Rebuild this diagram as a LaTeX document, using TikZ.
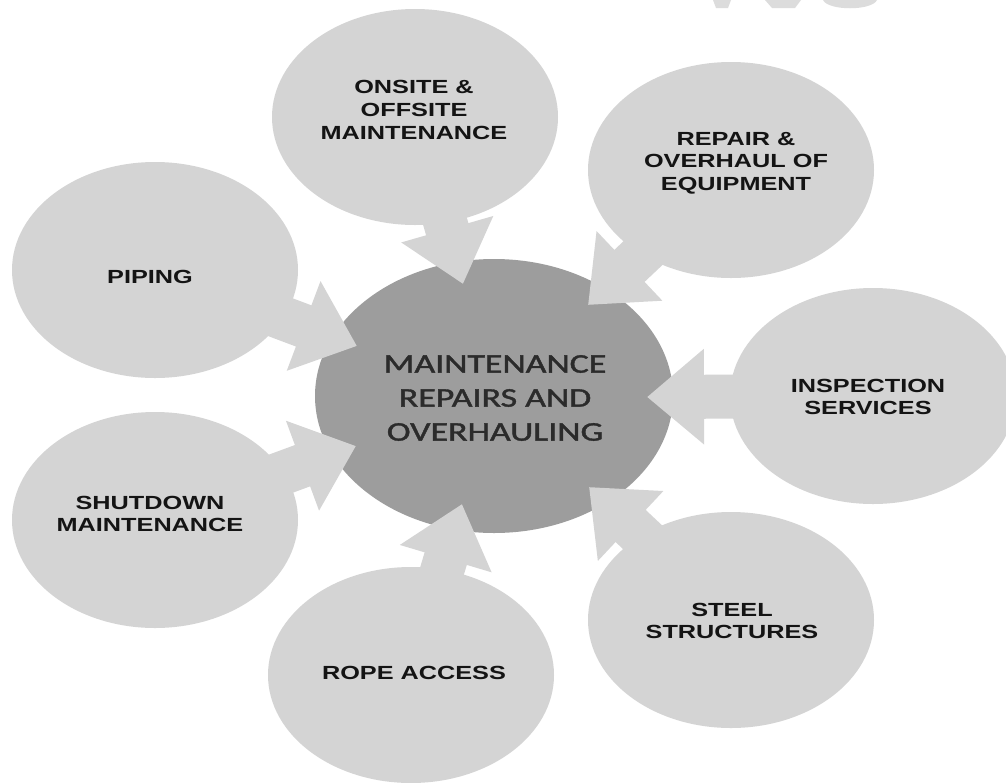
\documentclass[tikz,border=0pt]{standalone}
\usepackage{fontspec}
\setmainfont{Liberation Sans}
\newfontfamily\calib[FakeBold=1.3]{Carlito}
\usetikzlibrary{shapes.geometric,arrows.meta}
\definecolor{satgray}{HTML}{D4D4D4}
\definecolor{midgray}{HTML}{9D9D9D}
\definecolor{wmgray}{HTML}{DCDCDC}
\definecolor{ctext}{HTML}{2B2B2B}
\begin{document}
\begin{tikzpicture}[x=1pt,y=-1pt,
  sat/.style={ellipse, fill=satgray, minimum width=286pt, minimum height=216pt, inner sep=0pt},
  hub/.style={ellipse, fill=midgray, minimum width=358pt, minimum height=274pt, inner sep=0pt},
  lbl/.style={align=center, xscale=1.33, inner sep=0pt, font=\fontsize{19}{22.7}\selectfont\bfseries, text=black!92},
  hublbl/.style={align=center, xscale=1.33, inner sep=0pt, font=\calib\fontsize{27}{34}\selectfont, text=ctext},
  feed/.style={draw=satgray, line width=44pt, -{Triangle[width=92pt,length=57pt]}},
  wm/.style={fill=wmgray}]
\useasboundingbox (0,0) rectangle (1006,782);
\fill[white] (0,0) rectangle (1006,782);
\clip (0,0) rectangle (1006,782);
% faint fragment at the top edge
\fill[wm] (713,0) -- (731,0) -- (728,8) -- (716,8) -- cycle;
\fill[wm] (765,0) -- (801,0) -- (795,8) -- (772,8) -- cycle;
\fill[wm] (823,0) .. controls (828,11) and (872,11) .. (877,0) -- cycle;
% hub
\node[hub] (hub) at (494,396) {};
% satellites (positions)
\coordinate (cOn) at (415,117);
\coordinate (cRe) at (731,170);
\coordinate (cPi) at (155,270);
\coordinate (cIn) at (873,396);
\coordinate (cSh) at (155,520);
\coordinate (cSt) at (731,620);
\coordinate (cRo) at (411,675);
% arrow tips
\coordinate (tOn) at (463,284);
\coordinate (tRe) at (588,305);
\coordinate (tPi) at (357,346);
\coordinate (tIn) at (647,397);
\coordinate (tSh) at (356,446);
\coordinate (tSt) at (589,487);
\coordinate (tRo) at (462,504);
\draw[feed] (cOn) -- (tOn);
\draw[feed] (cRe) -- (tRe);
\draw[feed] (cPi) -- (tPi);
\draw[feed] (cIn) -- (tIn);
\draw[feed] (cSh) -- (tSh);
\draw[feed] (cSt) -- (tSt);
\draw[feed] (cRo) -- (tRo);
\node[sat] (onsite) at (cOn) {};
\node[sat] (repair) at (cRe) {};
\node[sat] (piping) at (cPi) {};
\node[sat] (inspect) at (cIn) {};
\node[sat] (shutdown) at (cSh) {};
\node[sat] (steel) at (cSt) {};
\node[sat] (rope) at (cRo) {};
% labels
\coordinate (lOn) at (414,110);
\coordinate (lRe) at (736,163);
\coordinate (lPi) at (150,277);
\coordinate (lIn) at (868,397);
\coordinate (lSh) at (150,514);
\coordinate (lSt) at (732,621);
\coordinate (lRo) at (414,673);
\node[lbl] (onsiteT) at (lOn) {ONSITE \&\\OFFSITE\\MAINTENANCE};
\node[lbl] (repairT) at (lRe) {REPAIR \&\\OVERHAUL OF\\EQUIPMENT};
\node[lbl] (pipingT) at (lPi) {PIPING};
\node[lbl] (inspectT) at (lIn) {INSPECTION\\SERVICES};
\node[lbl] (shutdownT) at (lSh) {SHUTDOWN\\MAINTENANCE};
\node[lbl] (steelT) at (lSt) {STEEL\\STRUCTURES};
\node[lbl] (ropeT) at (lRo) {ROPE ACCESS};
\coordinate (lHub) at (495,398);
\node[hublbl] (hubT) at (lHub) {MAINTENANCE\\REPAIRS AND\\OVERHAULING};
\end{tikzpicture}
\end{document}
